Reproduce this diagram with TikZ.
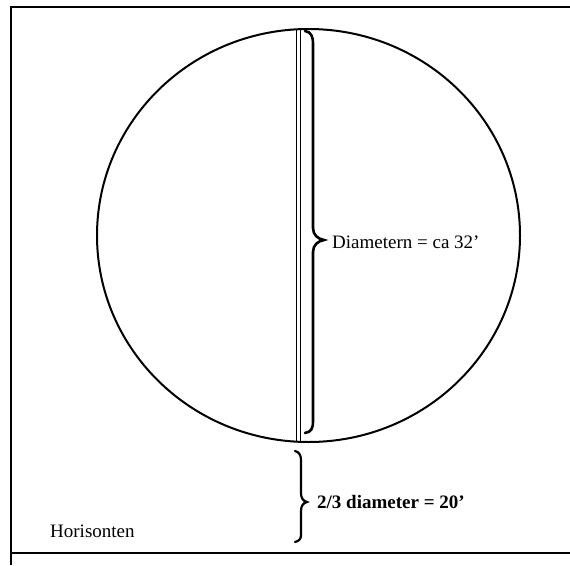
\documentclass[tikz,border=0pt]{standalone}
\usepackage{fontspec}
\setmainfont{Liberation Serif}
\begin{document}
\begin{tikzpicture}[x=1pt,y=-1pt,
  frameline/.style={line width=2.2pt},
  circleline/.style={line width=2pt},
  braceline/.style={line width=2.6pt,line cap=round},
  label/.style={anchor=base west,inner sep=0pt,font=\fontsize{19}{22}\selectfont}]
\useasboundingbox[fill=white] (0,0) rectangle (570,565);
% frame
\draw[frameline] (10,7) -- (570,7);
\draw[frameline] (11,7) -- (11,565);
\draw[frameline] (12,553) -- (570,553);
% circle
\draw[circleline] (308.5,235.5) ellipse [x radius=211.5, y radius=206.5];
% vertical double line
\coordinate (dtop) at (298.5,29);
\coordinate (dbot) at (298.5,442);
\draw[line width=1pt] ([xshift=-1.8pt]dtop) -- ([xshift=-1.8pt]dbot);
\draw[line width=1pt] ([xshift=1.8pt]dtop) -- ([xshift=1.8pt]dbot);
% upper brace
\draw[braceline] (305,31) .. controls (311,32) and (313,36) .. (313,44)
  -- (313,228) .. controls (313,235) and (318,239) .. (324,240)
  .. controls (318,241) and (313,245) .. (313,252)
  -- (313,421) .. controls (313,429) and (311,432) .. (305,433);
% lower brace
\draw[braceline,line width=2.2pt] (295,451) .. controls (299,452) and (301,455) .. (301,460)
  -- (301,493) .. controls (301,498) and (303,501) .. (307,502)
  .. controls (303,503) and (301,506) .. (301,511)
  -- (301,535) .. controls (301,539) and (299,541) .. (295,542);
% labels
\node[label] (diam) at (332,248) {Diametern = ca 32’};
\node[label,font=\fontsize{19}{22}\selectfont\bfseries] (third) at (317,508) {2/3 diameter = 20’};
\node[label] (horizon) at (50,537) {Horisonten};
\end{tikzpicture}
\end{document}
